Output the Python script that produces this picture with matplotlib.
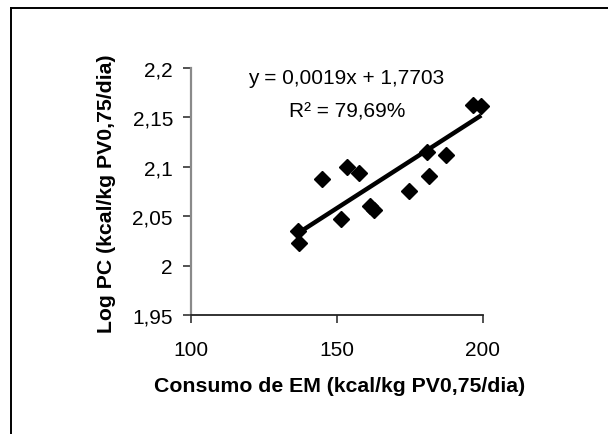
import numpy as np
import matplotlib
matplotlib.use("Agg")
import matplotlib.pyplot as plt
from matplotlib.lines import Line2D

plt.rcParams['font.family'] = ['Liberation Sans', 'DejaVu Sans']

# Data
consumo_em = [136.6, 136.9, 144.8, 151.5, 153.4, 157.4, 161.2, 162.6,
              174.7, 180.7, 181.5, 187.3, 196.5, 199.4]
log_pc = [2.035, 2.0225, 2.0872, 2.0475, 2.0998, 2.0934, 2.0606, 2.0565,
          2.0758, 2.1147, 2.091, 2.1121, 2.163, 2.162]

# trend line as it appears in the picture
trend_slope = 0.0019
trend_intercept = 1.7732

x_ticks = [100, 150, 200]
x_ticklabels = ['100', '150', '200']
y_ticks = [1.95, 2.0, 2.05, 2.1, 2.15, 2.2]
y_ticklabels = ['1,95', '2', '2,05', '2,1', '2,15', '2,2']

eq_text = 'y = 0,0019x + 1,7703'
r2_text = 'R² = 79,69%'
xlabel = 'Consumo de EM (kcal/kg PV0,75/dia)'
ylabel = 'Log PC (kcal/kg PV0,75/dia)'

W, H = 608, 435
fig = plt.figure(figsize=(W / 100, H / 100), dpi=100)
fig.patch.set_facecolor('white')

# axes box in pixels: left 191, right 483, top 69, bottom 316
ax = fig.add_axes([191 / W, (H - 316) / H, (483 - 191) / W, (316 - 69) / H])
ax.set_facecolor('white')

x = np.array(consumo_em)
y = np.array(log_pc)
ax.plot(x, y, linestyle='none', marker='D', markersize=8, color='black',
        markeredgecolor='black', zorder=3, clip_on=False)

xl = np.array([x.min(), x.max()])
ax.plot(xl, trend_slope * xl + trend_intercept, color='black', linewidth=3.2,
        solid_capstyle='butt', zorder=4, clip_on=False)

ax.set_xlim(100, 200)
ax.set_ylim(1.95, 2.2)
ax.set_xticks(x_ticks)
ax.set_xticklabels(x_ticklabels)
ax.set_yticks(y_ticks)
ax.set_yticklabels(y_ticklabels)

for s in ['top', 'right']:
    ax.spines[s].set_visible(False)
ax.spines['left'].set_color('#8a8a8a')
ax.spines['left'].set_linewidth(1.6)
ax.spines['bottom'].set_color('#222222')
ax.spines['bottom'].set_linewidth(1.3)

ax.tick_params(axis='y', direction='out', length=6, width=1.2,
               color='#333333', labelsize=15, pad=7)
ax.tick_params(axis='x', direction='out', length=6, width=1.2,
               color='#333333', labelsize=15, pad=12)

ax.set_xlabel(xlabel, fontsize=15.3, fontweight='bold')
ax.xaxis.set_label_coords((340 - 191) / 292, (316 - 387) / 247)
ax.xaxis.label.set_va('center')
ax.set_ylabel(ylabel, fontsize=15.3, fontweight='bold')
ax.yaxis.set_label_coords((107 - 191) / 292, (316 - 194) / 247)
ax.yaxis.label.set_va('center')

fig.text(346 / W, 1 - 78 / H, eq_text, fontsize=15, ha='center', va='center')
fig.text(347 / W, 1 - 112 / H, r2_text, fontsize=15, ha='center', va='center')

# outer frame (top and left edges visible)
fig.add_artist(Line2D([11 / W, 1.0], [1 - 9 / H, 1 - 9 / H],
                      transform=fig.transFigure, color='black', linewidth=1.4))
fig.add_artist(Line2D([11 / W, 11 / W], [0.0, 1 - 9 / H],
                      transform=fig.transFigure, color='black', linewidth=1.4))

fig.savefig('out.png', dpi=100)
